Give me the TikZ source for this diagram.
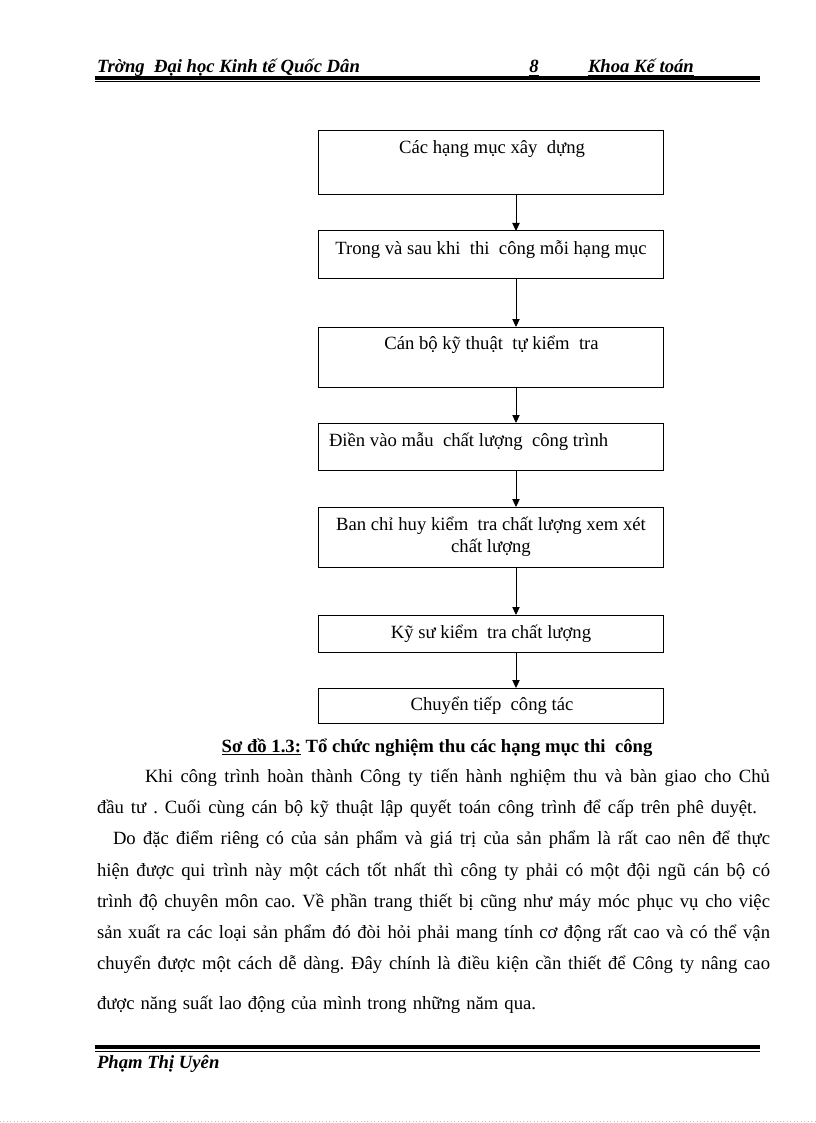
\documentclass[tikz,border=0pt]{standalone}
\usepackage{fontspec}
\setmainfont{Liberation Serif}
\usetikzlibrary{arrows.meta}
\frenchspacing
\begin{document}
\begin{tikzpicture}[x=0.75pt,y=-0.75pt,
  every node/.style={inner sep=0pt,outer sep=0pt},
  box/.style={draw,line width=0.75pt,minimum width=259.1pt,inner sep=0pt},
  btext/.style={anchor=base,font=\fontsize{14}{16}\selectfont},
  ptext/.style={anchor=base west,font=\fontsize{14}{16}\selectfont},
  htext/.style={anchor=base west,font=\fontsize{14}{16}\selectfont\bfseries\itshape},
  arr/.style={line width=0.75pt,-{Triangle[length=6pt,width=5.5pt]}}]
\useasboundingbox (0,0) rectangle (816,1123);
% header
\node[htext] (h1) at (97,73) {\underline{Trờng\ \ Đại học Kinh tế Quốc Dân}};
\node[htext,anchor=base] (h2) at (534,73) {\underline{8}};
\node[htext] (h3) at (588,73) {\underline{Khoa Kế toán}};
\draw[line width=2.6pt] (95,78) -- (760,78);
\draw[line width=0.6pt] (95,81.5) -- (760,81.5);
% boxes
\node[box,minimum height=48pt] (b1) at (491.25,163) {};
\node[box,minimum height=35.25pt] (b2) at (491.25,254.5) {};
\node[box,minimum height=45pt] (b3) at (491.25,357) {};
\node[box,minimum height=35.25pt] (b4) at (491.25,446.5) {};
\node[box,minimum height=45pt] (b5) at (491.25,537) {};
\node[box,minimum height=27.75pt] (b6) at (491.25,633.5) {};
\node[box,minimum height=26.25pt] (b7) at (491.25,705.5) {};
\node[btext] (t1) at (492,154) {Các hạng mục xây\ \ dựng};
\node[btext] (t2) at (491,254) {Trong và sau khi\ \ thi\ \ công mỗi hạng mục};
\node[btext] (t3) at (491.5,349) {Cán bộ kỹ thuật\ \ tự kiểm\ \ tra};
\node[ptext] (t4) at (329,446) {Điền vào mẫu\ \ chất lượng\ \ công trình};
\node[btext] (t5a) at (491,530) {Ban chỉ huy kiểm\ \ tra chất lượng xem xét};
\node[btext] (t5b) at (491,552) {chất lượng};
\node[btext] (t6) at (491,638) {Kỹ sư kiểm\ \ tra chất lượng};
\node[btext] (t7) at (492,710) {Chuyển tiếp\ \ công tác};
\foreach \a/\b in {b1/b2,b2/b3,b3/b4,b4/b5,b5/b6,b6/b7}
  \draw[arr] ([xshift=18.56pt]\a.south) -- ([xshift=18.56pt]\b.north);
% caption
\node[btext,font=\fontsize{14}{16}\selectfont\bfseries] (cap) at (437,752) {\underline{Sơ đồ 1.3:} Tổ chức nghiệm thu các hạng mục thi\ \ công};
% paragraph
\node[ptext] (p1) at (145,782) {\makebox[468.75pt][s]{Khi công trình hoàn thành Công ty tiến hành nghiệm thu và bàn giao cho Chủ}};
\node[ptext] (p2) at (97,813) {\makebox[495pt][s]{đầu tư . Cuối cùng cán bộ kỹ thuật lập quyết toán công trình để cấp trên phê duyệt.}};
\node[ptext] (p3) at (113,844) {\makebox[492.75pt][s]{Do đặc điểm riêng có của sản phẩm và giá trị của sản phẩm là rất cao nên để thực}};
\node[ptext] (p4) at (97,876) {\makebox[504.75pt][s]{hiện được qui trình này một cách tốt nhất thì công ty phải có một đội ngũ cán bộ có}};
\node[ptext] (p5) at (97,907) {\makebox[504.75pt][s]{trình độ chuyên môn cao. Về phần trang thiết bị cũng như máy móc phục vụ cho việc}};
\node[ptext] (p6) at (97,938) {\makebox[504.75pt][s]{sản xuất ra các loại sản phẩm đó đòi hỏi phải mang tính cơ động rất cao và có thể vận}};
\node[ptext] (p7) at (97,969) {\makebox[504.75pt][s]{chuyển được một cách dễ dàng. Đây chính là điều kiện cần thiết để Công ty nâng cao}};
\node[ptext] (p8) at (97,1009) {\makebox[329.25pt][s]{được năng suất lao động của mình trong những năm qua.}};
% footer
\draw[line width=3pt] (95,1047) -- (760,1047);
\draw[line width=0.6pt] (95,1051) -- (760,1051);
\node[htext] (f1) at (97,1068) {Phạm Thị Uyên};
\draw[gray!50,dotted,line width=0.6pt] (0,1121) -- (816,1121);
\end{tikzpicture}
\end{document}
